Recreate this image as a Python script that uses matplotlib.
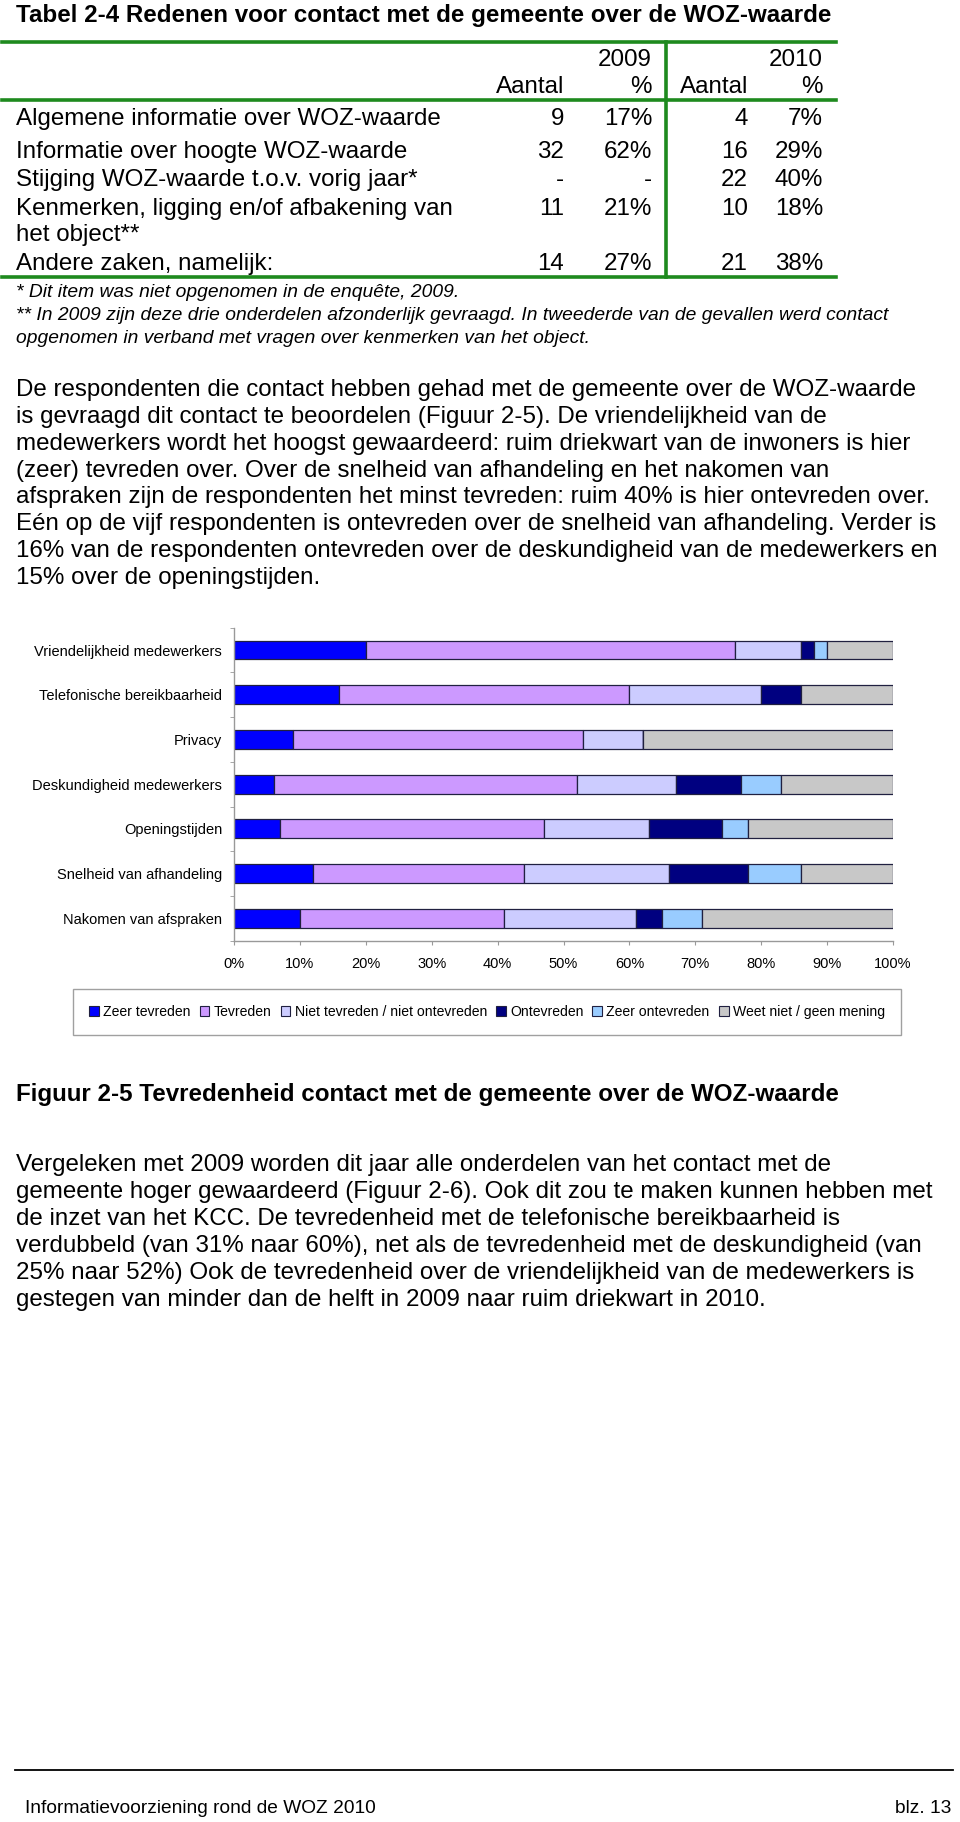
import matplotlib
matplotlib.use("Agg")
import matplotlib.pyplot as plt
from matplotlib.lines import Line2D
from matplotlib.patches import Patch
import numpy as np

plt.rcParams['font.family'] = ['Liberation Sans', 'DejaVu Sans']

# ---------------- data ----------------
table_title = "Tabel 2-4 Redenen voor contact met de gemeente over de WOZ-waarde"
table_rows = ["Algemene informatie over WOZ-waarde",
              "Informatie over hoogte WOZ-waarde",
              "Stijging WOZ-waarde t.o.v. vorig jaar*",
              "Kenmerken, ligging en/of afbakening van\nhet object**",
              "Andere zaken, namelijk:"]
aantal_2009 = ["9", "32", "-", "11", "14"]
pct_2009 = ["17%", "62%", "-", "21%", "27%"]
aantal_2010 = ["4", "16", "22", "10", "21"]
pct_2010 = ["7%", "29%", "40%", "18%", "38%"]
footnotes = ["* Dit item was niet opgenomen in de enquête, 2009.",
             "** In 2009 zijn deze drie onderdelen afzonderlijk gevraagd. In tweederde van de gevallen werd contact",
             "opgenomen in verband met vragen over kenmerken van het object."]

para1 = ["De respondenten die contact hebben gehad met de gemeente over de WOZ-waarde",
         "is gevraagd dit contact te beoordelen (Figuur 2-5). De vriendelijkheid van de",
         "medewerkers wordt het hoogst gewaardeerd: ruim driekwart van de inwoners is hier",
         "(zeer) tevreden over. Over de snelheid van afhandeling en het nakomen van",
         "afspraken zijn de respondenten het minst tevreden: ruim 40% is hier ontevreden over.",
         "Eén op de vijf respondenten is ontevreden over de snelheid van afhandeling. Verder is",
         "16% van de respondenten ontevreden over de deskundigheid van de medewerkers en",
         "15% over de openingstijden."]

categories = ["Vriendelijkheid medewerkers", "Telefonische bereikbaarheid", "Privacy",
              "Deskundigheid medewerkers", "Openingstijden", "Snelheid van afhandeling",
              "Nakomen van afspraken"]
zeer_tevreden = [20, 16, 9, 6, 7, 12, 10]
tevreden = [56, 44, 44, 46, 40, 32, 31]
niet_tevreden = [10, 20, 9, 15, 16, 22, 20]
ontevreden = [2, 6, 0, 10, 11, 12, 4]
zeer_ontevreden = [2, 0, 0, 6, 4, 8, 6]
weet_niet = [10, 14, 38, 17, 22, 14, 29]
series_labels = ["Zeer tevreden", "Tevreden", "Niet tevreden / niet ontevreden",
                 "Ontevreden", "Zeer ontevreden", "Weet niet / geen mening"]
x_ticks = [0, 10, 20, 30, 40, 50, 60, 70, 80, 90, 100]
x_ticklabels = ["0%", "10%", "20%", "30%", "40%", "50%", "60%", "70%", "80%", "90%", "100%"]

caption = "Figuur 2-5 Tevredenheid contact met de gemeente over de WOZ-waarde"
para2 = ["Vergeleken met 2009 worden dit jaar alle onderdelen van het contact met de",
         "gemeente hoger gewaardeerd (Figuur 2-6). Ook dit zou te maken kunnen hebben met",
         "de inzet van het KCC. De tevredenheid met de telefonische bereikbaarheid is",
         "verdubbeld (van 31% naar 60%), net als de tevredenheid met de deskundigheid (van",
         "25% naar 52%) Ook de tevredenheid over de vriendelijkheid van de medewerkers is",
         "gestegen van minder dan de helft in 2009 naar ruim driekwart in 2010."]
footer_left = "Informatievoorziening rond de WOZ 2010"
footer_right = "blz. 13"

# ---------------- style ----------------
colors = ["#0000FF", "#CC99FF", "#CCCCFF", "#000080", "#99CCFF", "#C8C8C8"]
green = "#1E8A1E"
W, H = 960, 1822
fig = plt.figure(figsize=(W / 100, H / 100), dpi=100)


def fx(x):
    return x / W


def fy(y):
    return 1 - y / H


def put(x, yc, s, size, ha='left', weight='normal', style='normal', k=0.34):
    base = yc + k * size * 100 / 72
    fig.text(fx(x), fy(base), s, ha=ha, va='baseline', fontsize=size,
             fontweight=weight, fontstyle=style)


def hline(x0, x1, y, color, lw):
    fig.add_artist(Line2D([fx(x0), fx(x1)], [fy(y), fy(y)], color=color, lw=lw,
                          transform=fig.transFigure))


def vline(x, y0, y1, color, lw):
    fig.add_artist(Line2D([fx(x), fx(x)], [fy(y0), fy(y1)], color=color, lw=lw,
                          transform=fig.transFigure))


BODY = 17.35
BOLD = 17.35
# ---------------- table ----------------
put(16, 14, table_title, BOLD, weight='bold')
hline(2, 836, 42, green, 2.6)
hline(2, 836, 100, green, 2.6)
hline(2, 836, 277, green, 2.6)
vline(666, 42, 277, green, 2.6)

put(652, 58, "2009", BODY, ha='right')
put(823, 58, "2010", BODY, ha='right')
put(564, 85, "Aantal", BODY, ha='right')
put(652, 85, "%", BODY, ha='right')
put(748, 85, "Aantal", BODY, ha='right')
put(823, 85, "%", BODY, ha='right')

row_y = [117, 150, 178, 207, 262]
for i, label in enumerate(table_rows):
    for j, line in enumerate(label.split("\n")):
        put(16, row_y[i] + 26 * j, line, BODY)
    put(564, row_y[i], aantal_2009[i], BODY, ha='right')
    put(652, row_y[i], pct_2009[i], BODY, ha='right')
    put(748, row_y[i], aantal_2010[i], BODY, ha='right')
    put(823, row_y[i], pct_2010[i], BODY, ha='right')

for i, line in enumerate(footnotes):
    put(16, 290 + 23 * i, line, 13.9, style='italic')

for i, line in enumerate(para1):
    put(16, 388 + 26.8 * i, line, BODY)

# ---------------- chart ----------------
ax_left, ax_right, ax_top, ax_bottom = 234, 893, 627.7, 940.6
ax = fig.add_axes([fx(ax_left), fy(ax_bottom), (ax_right - ax_left) / W,
                   (ax_bottom - ax_top) / H])
series = [zeer_tevreden, tevreden, niet_tevreden, ontevreden, zeer_ontevreden, weet_niet]
ypos = np.arange(len(categories))
left = np.zeros(len(categories))
for vals, col, lab in zip(series, colors, series_labels):
    vals = np.array(vals, dtype=float)
    ax.barh(ypos, vals, left=left, height=0.42, color=col, edgecolor="#202040",
            linewidth=0.9, label=lab)
    left += vals
ax.set_xlim(0, 100)
ax.set_ylim(len(categories) - 0.5, -0.5)
ax.set_xticks(x_ticks)
ax.set_xticklabels(x_ticklabels, fontsize=10.5)
ax.set_yticks(ypos)
ax.set_yticklabels(categories, fontsize=10.5)
ax.set_yticks(np.arange(len(categories) + 1) - 0.5, minor=True)
ax.tick_params(axis='y', which='major', length=0, pad=8.6)
ax.tick_params(axis='y', which='minor', length=3, color="#999999", direction='out')
ax.tick_params(axis='x', which='major', length=3, color="#999999", pad=9)
for s in ['top', 'right']:
    ax.spines[s].set_visible(False)
for s in ['left', 'bottom']:
    ax.spines[s].set_color("#999999")
    ax.spines[s].set_linewidth(1)

handles = [Patch(facecolor=c, edgecolor="#202040", linewidth=0.8) for c in colors]
leg = fig.legend(handles, series_labels, loc='center', ncol=6, mode='expand',
                 bbox_to_anchor=(fx(73), fy(1037), (901 - 73) / W, 50 / H),
                 fontsize=10.1, handlelength=0.7, handleheight=0.7, handletextpad=0.3,
                 columnspacing=0.8, borderpad=1.15, fancybox=False, framealpha=1,
                 edgecolor="#A0A0A0", borderaxespad=0)
leg.get_frame().set_linewidth(1)

# ---------------- caption & paragraph ----------------
put(16, 1093, caption, BOLD, weight='bold')
for i, line in enumerate(para2):
    put(16, 1163 + 27 * i, line, BODY)

# ---------------- footer ----------------
hline(15, 953, 1770, "black", 1.3)
put(25, 1806.7, footer_left, 13.8)
put(951, 1806.7, footer_right, 13.8, ha='right')

fig.savefig("out.png", dpi=100)
